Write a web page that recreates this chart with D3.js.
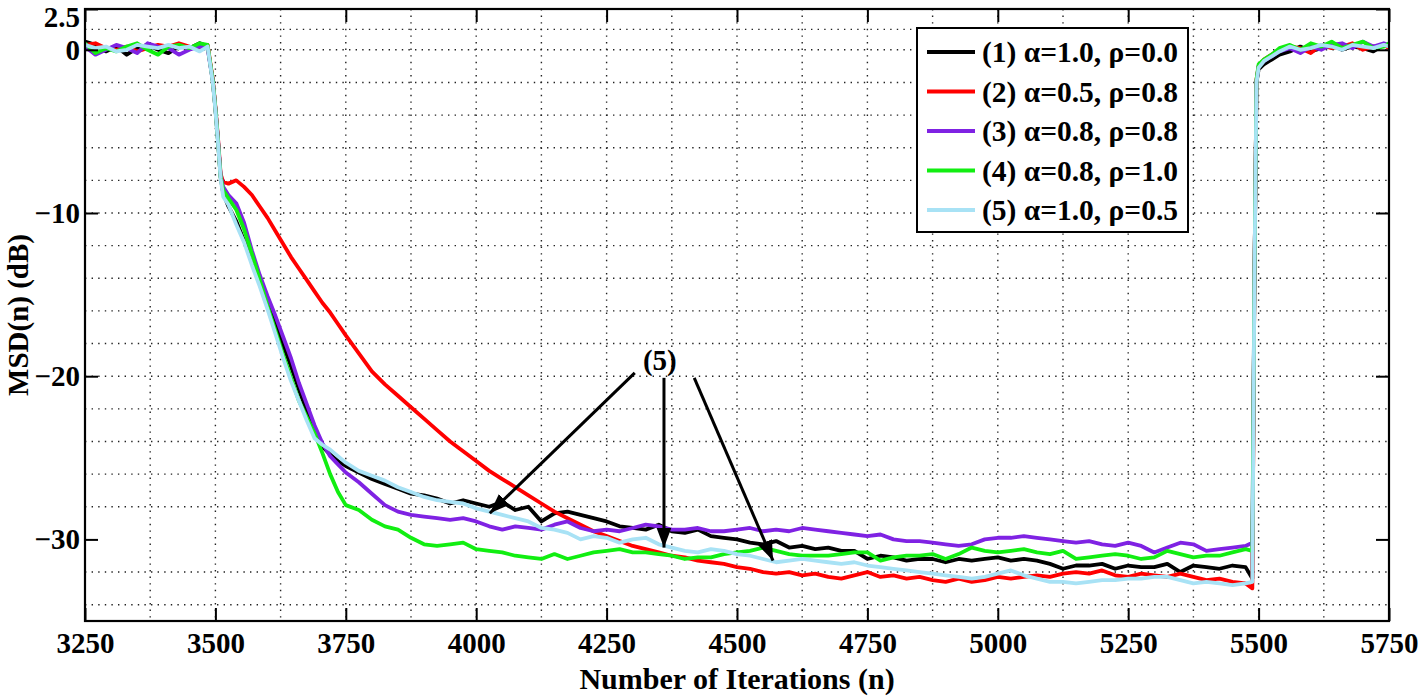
<!DOCTYPE html>
<html>
<head>
<meta charset="utf-8">
<script src="https://cdnjs.cloudflare.com/ajax/libs/d3/7.8.5/d3.min.js"></script>
<style>
  body { margin: 0; background: #fff; }
  svg { display: block; }
</style>
</head>
<body>
<div id="chart"></div>
<script>
// Iteration index shared by all curves
const iterations = [
  3250, 3270, 3290, 3310, 3330, 3350, 3370, 3390, 3410, 3430, 3450, 3470, 3485,
  3495, 3500, 3505, 3510, 3515, 3525,
  3540, 3555, 3570, 3585, 3600, 3615, 3630, 3645, 3660, 3675, 3690, 3705, 3720, 3735, 3750,
  3775, 3800, 3825, 3850, 3875, 3900, 3925, 3950, 3975, 4000,
  4025, 4050, 4075, 4100, 4125, 4150, 4175, 4200, 4225, 4250,
  4275, 4300, 4325, 4350, 4375, 4400, 4425, 4450, 4475, 4500,
  4525, 4550, 4575, 4600, 4625, 4650, 4675, 4700, 4725, 4750,
  4775, 4800, 4825, 4850, 4875, 4900, 4925, 4950, 4975, 5000,
  5025, 5050, 5075, 5100, 5125, 5150, 5175, 5200, 5225, 5250,
  5275, 5300, 5325, 5350, 5375, 5400, 5425, 5450, 5475,
  5488,
  5492, 5496, 5500, 5510, 5525, 5540, 5560, 5580, 5600, 5620, 5640, 5660, 5680, 5700, 5720, 5740, 5750
];

// (1) alpha=1.0, rho=0.0
const msd1 = [
  0.5, 0.3, -0.1, 0.2, -0.3, 0.1, 0.3, 0.0, -0.2, 0.2, 0.1, 0.4, 0.2,
  -1.9, -3.6, -5.6, -7.8, -8.8, -9.6,
  -10.5, -11.7, -12.8, -14.0, -15.3, -16.7, -18.1, -19.4, -20.8, -22.1, -23.4, -24.3, -24.8, -25.2, -25.5,
  -25.9, -26.3, -26.6, -26.9, -27.2, -27.3, -27.5, -27.8, -27.6, -27.8,
  -28.0, -27.7, -28.2, -28.0, -28.9, -28.4, -28.3, -28.5, -28.7, -28.9,
  -29.2, -29.3, -29.4, -29.1, -29.5, -29.6, -29.4, -29.8, -29.9, -30.0,
  -30.2, -30.3, -30.1, -30.5, -30.4, -30.6, -30.5, -30.7, -30.7, -31.2,
  -31.0, -31.1, -31.3, -31.2, -31.2, -31.4, -31.2, -31.3, -31.2, -31.1,
  -31.3, -31.2, -31.3, -31.5, -31.8, -31.6, -31.6, -31.5, -31.8, -31.6,
  -31.7, -31.7, -31.5, -32.0, -31.6, -31.7, -31.8, -31.6, -31.7,
  -32.4,
  -14, -2.0, -1.2, -0.9, -0.6, -0.3, -0.1, 0.2, -0.1, 0.1, 0.3, 0.0, 0.2, 0.1, -0.1, 0.3, 0.2
];

// (2) alpha=0.5, rho=0.8
const msd2 = [
  0.3, 0.4, 0.1, 0.0, 0.2, -0.1, 0.1, 0.3, 0.2, 0.4, 0.2, 0.1, 0.3,
  -1.8, -3.5, -5.4, -7.6, -8.1, -8.2,
  -8.0, -8.4, -8.9, -9.6, -10.3, -11.1, -11.9, -12.7, -13.4, -14.1, -14.8, -15.5, -16.1, -16.8, -17.5,
  -18.6, -19.7, -20.5, -21.2, -21.9, -22.6, -23.3, -24.0, -24.6, -25.2,
  -25.8, -26.3, -26.8, -27.3, -27.8, -28.3, -28.7, -29.1, -29.5, -29.8,
  -30.1, -30.4, -30.6, -30.8, -31.0, -31.1, -31.3, -31.4, -31.5, -31.7,
  -31.8, -32.0, -32.1, -32.0, -32.2, -32.1, -32.3, -32.4, -32.2, -32.0,
  -32.3, -32.2, -32.4, -32.3, -32.5, -32.6, -32.4, -32.6, -32.5, -32.3,
  -32.4, -32.3, -32.2, -32.3, -32.1, -32.0, -32.1, -31.9, -32.2, -32.3,
  -32.1, -32.2, -32.3, -32.1, -32.3, -32.5, -32.4, -32.6, -32.7,
  -33.0,
  -14, -1.8, -1.0, -0.6, -0.3, 0.0, 0.2, 0.1, -0.2, 0.3, 0.1, 0.2, 0.4, 0.0, 0.2, 0.3, 0.1
];

// (3) alpha=0.8, rho=0.8
const msd3 = [
  0.2, -0.3, 0.0, 0.3, 0.1, -0.2, 0.4, 0.2, 0.1, -0.3, 0.0, 0.2, 0.1,
  -1.9, -3.6, -5.5, -7.7, -8.4, -8.9,
  -9.4, -10.6, -12.3, -13.8, -15.1, -16.3, -17.6, -18.9, -20.4, -21.7, -23.0, -24.1, -24.9, -25.4, -25.9,
  -26.5, -27.2, -27.9, -28.3, -28.5, -28.6, -28.7, -28.8, -28.7, -28.9,
  -29.2, -29.4, -29.2, -29.3, -29.4, -29.1, -28.9, -29.3, -29.5, -29.4,
  -29.5, -29.3, -29.1, -29.2, -29.4, -29.4, -29.3, -29.5, -29.5, -29.4,
  -29.3, -29.5, -29.4, -29.5, -29.3, -29.4, -29.5, -29.6, -29.7, -29.8,
  -29.7, -30.0, -30.1, -30.1, -30.2, -30.3, -30.4, -30.3, -30.0, -29.9,
  -29.9, -29.8, -29.9, -30.0, -30.1, -30.2, -30.1, -30.3, -30.4, -30.2,
  -30.4, -30.8, -30.5, -30.2, -30.3, -30.7, -30.6, -30.5, -30.4,
  -30.2,
  -14, -1.9, -1.0, -0.7, -0.4, -0.1, 0.1, -0.2, 0.2, 0.0, 0.3, 0.4, 0.1, 0.5, 0.2, 0.4, 0.3
];

// (4) alpha=0.8, rho=1.0
const msd4 = [
  0.4, -0.2, 0.1, -0.1, 0.2, 0.4, 0.0, -0.3, 0.2, 0.3, 0.1, 0.4, 0.3,
  -1.9, -3.6, -5.6, -7.8, -8.6, -9.1,
  -9.8, -11.0, -12.5, -14.1, -15.7, -17.2, -18.7, -20.1, -21.5, -22.5, -23.5, -24.7, -26.0, -27.1, -27.9,
  -28.2, -28.8, -29.2, -29.4, -29.9, -30.3, -30.4, -30.3, -30.2, -30.6,
  -30.7, -30.8, -31.0, -31.1, -31.2, -30.9, -31.2, -31.0, -30.8, -30.7,
  -30.6, -30.8, -30.8, -30.9, -31.0, -31.2, -31.1, -31.1, -30.9, -30.8,
  -30.7, -30.5, -30.7, -30.9, -31.0, -31.0, -31.0, -30.9, -30.8, -30.8,
  -31.3, -31.1, -31.0, -31.0, -30.9, -31.2, -30.9, -30.5, -30.7, -30.8,
  -30.7, -30.6, -30.8, -30.9, -30.7, -31.2, -31.1, -31.0, -30.9, -31.0,
  -31.2, -31.1, -30.7, -30.9, -31.1, -31.0, -31.0, -30.8, -30.6,
  -30.7,
  -14, -1.8, -0.9, -0.6, -0.3, 0.1, 0.3, 0.0, 0.4, 0.2, 0.5, 0.1, 0.3, 0.5, 0.1, 0.2, 0.4
];

// (5) alpha=1.0, rho=0.5
const msd5 = [
  0.3, 0.1, 0.2, -0.1, 0.0, 0.3, 0.2, 0.1, 0.3, 0.1, 0.2, -0.1, 0.2,
  -2.0, -3.7, -5.7, -7.9, -9.0, -9.5,
  -10.7, -11.8, -13.2, -14.5, -15.9, -17.4, -18.9, -20.3, -21.5, -22.7, -23.8, -24.2, -24.5, -24.9, -25.3,
  -25.8, -26.1, -26.4, -26.8, -27.1, -27.4, -27.6, -27.7, -27.8, -28.1,
  -28.3, -28.5, -28.7, -28.9, -29.3, -29.4, -29.6, -30.0, -29.8, -29.9,
  -30.2, -30.0, -29.9, -30.3, -30.5, -30.7, -30.8, -30.6, -30.7, -30.9,
  -31.0, -31.2, -31.4, -31.3, -31.2, -31.3, -31.4, -31.5, -31.4, -31.6,
  -31.7, -31.8, -31.9, -32.0, -32.1, -32.2, -32.3, -32.4, -32.3, -32.1,
  -31.9, -32.2, -32.4, -32.6, -32.6, -32.7, -32.6, -32.5, -32.5, -32.4,
  -32.4, -32.3, -32.3, -32.5, -32.7, -32.6, -32.7, -32.8, -32.7,
  -32.6,
  -14, -2.0, -1.1, -0.7, -0.4, -0.1, 0.2, 0.0, 0.1, 0.3, 0.2, 0.0, 0.3, 0.2, 0.1, 0.3, 0.2
];

const seriesLabels = [
  "(1) α=1.0, ρ=0.0",
  "(2) α=0.5, ρ=0.8",
  "(3) α=0.8, ρ=0.8",
  "(4) α=0.8, ρ=1.0",
  "(5) α=1.0, ρ=0.5"
];
const seriesColors = ["#000000", "#ff0000", "#7f22e3", "#11ee11", "#a8e2f5"];

const xTicks = [3250, 3500, 3750, 4000, 4250, 4500, 4750, 5000, 5250, 5500, 5750];
const yTicks = [-30, -20, -10, 0, 2.5];
const xGrid = [3375, 3500, 3625, 3750, 3875, 4000, 4125, 4250, 4375, 4500, 4625, 4750, 4875, 5000, 5125, 5250, 5375, 5500, 5625];
const yGrid = [1.25, 0, -2, -4, -6, -8, -10, -12, -14, -16, -18, -20, -22, -24, -26, -28, -32, -34];

// annotation "(5)": label position and arrows [from, to] in data units
const noteLabel = { n: 4352, v: -19.0, text: "(5)" };
const noteArrows = [
  [[4304, -19.8], [4026, -28.4]],
  [[4360, -20.1], [4360, -30.5]],
  [[4418, -20.1], [4569, -31.3]]
];

const W = 1418, H = 696;
const margin = { top: 9, right: 29, bottom: 75, left: 85 };
const width = W - margin.left - margin.right;
const height = H - margin.top - margin.bottom;
const serif = "'Liberation Serif', 'Times New Roman', serif";

const svg = d3.select("#chart").append("svg")
  .attr("width", W)
  .attr("height", H);

const g = svg.append("g")
  .attr("transform", "translate(" + margin.left + "," + margin.top + ")");

const xScale = d3.scaleLinear().domain([3250, 5750]).range([0, width]);
const yScale = d3.scaleLinear().domain([-35, 2.5]).range([height, 0]);

// dotted grid
g.append("g").selectAll("line").data(xGrid).join("line")
  .attr("x1", d => xScale(d)).attr("x2", d => xScale(d))
  .attr("y1", 0).attr("y2", height)
  .attr("stroke", "#222").attr("stroke-width", 1.4)
  .attr("stroke-dasharray", "1.4,5.2");
g.append("g").selectAll("line").data(yGrid).join("line")
  .attr("x1", 0).attr("x2", width)
  .attr("y1", d => yScale(d)).attr("y2", d => yScale(d))
  .attr("stroke", "#222").attr("stroke-width", 1.4)
  .attr("stroke-dasharray", "1.4,5.2");

// curves
const allSeries = [msd1, msd2, msd3, msd4, msd5];
const line = d3.line()
  .x(d => xScale(d[0]))
  .y(d => yScale(d[1]));

g.append("defs").append("clipPath").attr("id", "plotclip")
  .append("rect").attr("width", width).attr("height", height);

allSeries.forEach(function (vals, i) {
  const pts = iterations.map((n, k) => [n, vals[k]]).filter(p => p[1] !== undefined);
  g.append("path")
    .datum(pts)
    .attr("clip-path", "url(#plotclip)")
    .attr("fill", "none")
    .attr("stroke", seriesColors[i])
    .attr("stroke-width", 3.8)
    .attr("stroke-linejoin", "round")
    .attr("d", line);
});

// axes (inward ticks)
const fmt = d => (d < 0 ? "\u2212" : "") + Math.abs(d);

const xAxis = g.append("g")
  .attr("transform", "translate(0," + height + ")")
  .call(d3.axisBottom(xScale).tickValues(xTicks).tickSize(-13).tickPadding(11).tickFormat(fmt));
const yAxis = g.append("g")
  .call(d3.axisLeft(yScale).tickValues(yTicks).tickSize(-13).tickPadding(5).tickFormat(fmt));
g.append("g")
  .call(d3.axisTop(xScale).tickValues(xTicks).tickSize(-13).tickFormat(""));
g.append("g")
  .attr("transform", "translate(" + width + ",0)")
  .call(d3.axisRight(yScale).tickValues(yTicks).tickSize(-13).tickFormat(""));

g.selectAll(".domain").remove();
g.selectAll(".tick line").attr("stroke", "#000").attr("stroke-width", 2);
[xAxis, yAxis].forEach(ax => ax.selectAll("text")
  .attr("font-family", serif)
  .attr("font-size", 29)
  .attr("font-weight", "bold")
  .attr("fill", "#000"));
// the top label sits on the frame edge; nudge it so it stays inside the page
yAxis.selectAll(".tick text").filter(d => d === 2.5).attr("dy", "0.6em");

// frame
g.append("rect")
  .attr("width", width).attr("height", height)
  .attr("fill", "none").attr("stroke", "#000").attr("stroke-width", 2.2);

// axis labels
svg.append("text")
  .attr("x", margin.left + width / 2)
  .attr("y", 689)
  .attr("text-anchor", "middle")
  .attr("font-family", serif).attr("font-size", 30).attr("font-weight", "bold")
  .text("Number of Iterations (n)");
svg.append("text")
  .attr("transform", "translate(28," + (margin.top + height / 2) + ") rotate(-90)")
  .attr("text-anchor", "middle")
  .attr("font-family", serif).attr("font-size", 29).attr("font-weight", "bold")
  .text("MSD(n) (dB)");

// annotation
svg.append("defs").append("marker")
  .attr("id", "head")
  .attr("viewBox", "0 -5 10 10")
  .attr("refX", 10).attr("refY", 0)
  .attr("markerUnits", "userSpaceOnUse")
  .attr("markerWidth", 20).attr("markerHeight", 15)
  .attr("preserveAspectRatio", "none")
  .attr("orient", "auto")
  .append("path").attr("d", "M0,-5L10,0L0,5Z").attr("fill", "#000");

g.selectAll(".arrow").data(noteArrows).join("line")
  .attr("class", "arrow")
  .attr("x1", d => xScale(d[0][0])).attr("y1", d => yScale(d[0][1]))
  .attr("x2", d => xScale(d[1][0])).attr("y2", d => yScale(d[1][1]))
  .attr("stroke", "#000").attr("stroke-width", 3)
  .attr("marker-end", "url(#head)");

g.append("text")
  .attr("x", xScale(noteLabel.n)).attr("y", yScale(noteLabel.v))
  .attr("text-anchor", "middle")
  .attr("dy", "0.35em")
  .attr("font-family", serif).attr("font-size", 29).attr("font-weight", "bold")
  .text(noteLabel.text);

// legend
const legend = svg.append("g").attr("transform", "translate(917,28)");
legend.append("rect")
  .attr("width", 271).attr("height", 204)
  .attr("fill", "#fff").attr("stroke", "#000").attr("stroke-width", 2);
const rows = legend.selectAll(".row").data(seriesLabels).join("g")
  .attr("class", "row")
  .attr("transform", (d, i) => "translate(0," + (24 + i * 39.5) + ")");
rows.append("line")
  .attr("x1", 10).attr("x2", 58)
  .attr("stroke", (d, i) => seriesColors[i])
  .attr("stroke-width", 4);
rows.append("text")
  .attr("x", 65).attr("dy", "0.35em")
  .attr("font-family", serif).attr("font-size", 29).attr("font-weight", "bold")
  .attr("textLength", 196).attr("lengthAdjust", "spacingAndGlyphs")
  .text(d => d);
</script>
</body>
</html>
